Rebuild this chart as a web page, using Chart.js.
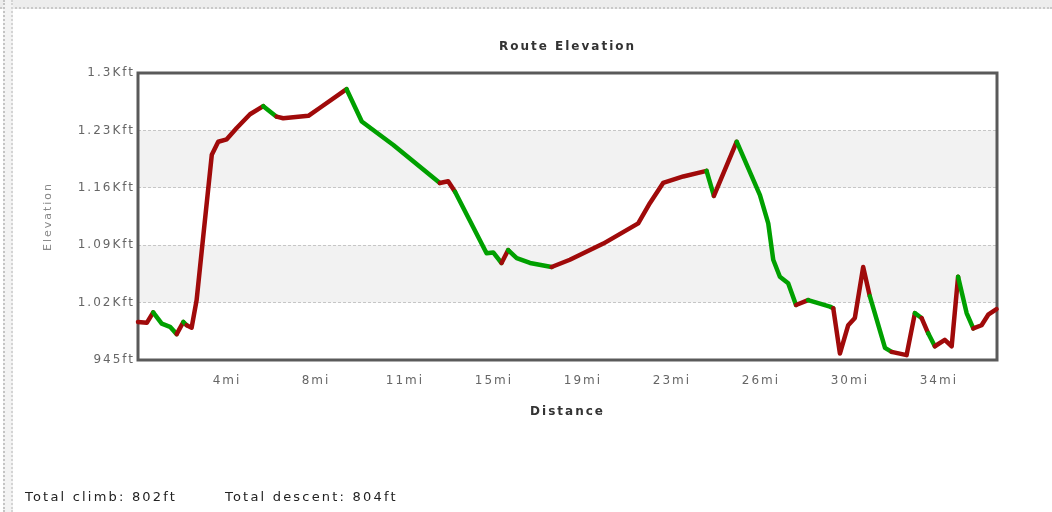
<!DOCTYPE html>
<html>
<head>
<meta charset="utf-8">
<script src="https://cdn.jsdelivr.net/npm/chart.js@4"></script>
<style>
html,body{margin:0;padding:0;background:#fff;}
#wrap{position:relative;width:1052px;height:512px;overflow:hidden;background:#fff;}
#topbar{position:absolute;left:0;top:0;width:1052px;height:7px;background:#ededed;border-bottom:2px dotted #c9c9c9;}
#leftbar{position:absolute;left:3px;top:0;width:6px;height:512px;background:#f3f3f3;border-left:2px dotted #c4c4c4;border-right:2px dotted #d4d4d4;}
canvas{position:absolute;left:0;top:0;}
.tot{position:absolute;top:489px;font:13px "DejaVu Sans",sans-serif;letter-spacing:2.2px;color:#222;white-space:pre;line-height:16px;}
</style>
</head>
<body>
<div id="wrap">
  <div id="topbar"></div>
  <div id="leftbar"></div>
  <canvas id="c" width="1052" height="512"></canvas>
  <div class="tot" id="climb" style="left:25px;"></div>
  <div class="tot" id="descent" style="left:225px;"></div>
</div>
<script>
// ---- data ----
const distanceMi = [0, 0.37, 0.64, 1.00, 1.35, 1.63, 1.91, 2.05, 2.26, 2.47,
  2.75, 3.11, 3.38, 3.74, 4.16, 4.72, 5.28, 5.84, 6.12, 7.18,
  7.67, 8.79, 9.43, 10.76, 12.72, 13.07, 13.36, 14.69, 14.97, 15.32,
  15.60, 15.96, 16.52, 17.43, 18.20, 19.61, 21.08, 21.57, 22.13, 22.98,
  23.96, 24.27, 25.23, 26.21, 26.56, 26.77, 27.05, 27.40, 27.73, 28.24,
  29.16, 29.30, 29.58, 29.93, 30.21, 30.56, 30.84, 31.48, 31.76, 32.39,
  32.74, 33.02, 33.30, 33.58, 34.00, 34.29, 34.56, 34.92, 35.20, 35.55,
  35.83, 36.18];
const elevationFt = [992, 991, 1004, 990, 986, 977, 992, 988, 985, 1019,
  1098, 1199, 1215, 1218, 1232, 1249, 1259, 1246, 1244, 1247,
  1257, 1280, 1240, 1211, 1164, 1166, 1153, 1077, 1078, 1065,
  1081, 1071, 1065, 1060, 1069, 1089, 1114, 1139, 1164, 1172,
  1179, 1148, 1215, 1149, 1114, 1069, 1048, 1040, 1013, 1019,
  1011, 1009, 953, 988, 997, 1060, 1024, 960, 955, 951,
  1003, 997, 978, 962, 970, 962, 1048, 1003, 984, 988,
  1001, 1008];
// colour of each segment (R = climb colour, G = descent colour)
const segmentTrend = ['R','R','G','G','G','R','G','R','R','R',
  'R','R','R','R','R','R','G','R','R','R',
  'R','G','G','G','R','R','G','G','G','R',
  'G','G','G','R','R','R','R','R','R','R',
  'G','R','G','G','G','G','G','G','R','G',
  'G','R','R','R','R','R','G','G','R','R',
  'G','R','G','R','R','R','G','G','R','R',
  'R'];
const xTickValues = [3.75, 7.5, 11.25, 15, 18.75, 22.5, 26.25, 30, 33.75];
const xTickLabels = ['4mi','8mi','11mi','15mi','19mi','23mi','26mi','30mi','34mi'];
const yTickValues = [945, 1016, 1087, 1158, 1229, 1300];
const yTickLabels = ['945ft','1.02Kft','1.09Kft','1.16Kft','1.23Kft','1.3Kft'];
const shadedBands = [[1016, 1087], [1158, 1229]];
const totalClimbFt = 802;
const totalDescentFt = 804;

document.getElementById('climb').textContent = 'Total climb: ' + totalClimbFt + 'ft';
document.getElementById('descent').textContent = 'Total descent: ' + totalDescentFt + 'ft';

const RED = '#a00a0a';
const GREEN = '#00a000';
const FONT = 'DejaVu Sans';

const framePlugin = {
  id: 'frame',
  beforeUpdate(chart) { chart.ctx.letterSpacing = '2px'; },
  beforeDraw(chart) {
    const {ctx, chartArea: {left, right}, scales: {y}} = chart;
    ctx.letterSpacing = '2px';
    ctx.save();
    ctx.fillStyle = '#f2f2f2';
    shadedBands.forEach(([a, b]) => {
      const t = y.getPixelForValue(b);
      const bt = y.getPixelForValue(a);
      ctx.fillRect(left, t, right - left, bt - t);
    });
    ctx.restore();
  },
  beforeDatasetsDraw(chart) {
    const {ctx, chartArea: {left, right, top, bottom}} = chart;
    ctx.save();
    ctx.strokeStyle = '#5a5a5a';
    ctx.lineWidth = 3;
    ctx.strokeRect(left, top, right - left, bottom - top);
    ctx.restore();
  }
};

new Chart(document.getElementById('c'), {
  type: 'line',
  data: {
    datasets: [{
      data: distanceMi.map((d, i) => ({x: d, y: elevationFt[i]})),
      borderWidth: 4.5,
      pointRadius: 0,
      tension: 0,
      fill: false,
      clip: false,
      borderCapStyle: 'round',
      borderJoinStyle: 'round',
      borderColor: RED,
      segment: {
        borderColor: c => segmentTrend[c.p0DataIndex] === 'R' ? RED : GREEN
      }
    }]
  },
  options: {
    responsive: false,
    animation: false,
    events: [],
    layout: {padding: {left: 0, right: 55, top: 0, bottom: 92.8}},
    plugins: {
      legend: {display: false},
      tooltip: {enabled: false},
      title: {
        display: true,
        text: 'Route Elevation',
        fullSize: false,
        color: '#333',
        font: {family: FONT, size: 12, weight: 'bold'},
        padding: {top: 40, bottom: 18.6}
      }
    },
    scales: {
      x: {
        type: 'linear',
        min: 0,
        max: 36.2,
        grid: {display: false, drawTicks: false},
        border: {display: false},
        afterBuildTicks(s) { s.ticks = xTickValues.map(v => ({value: v})); },
        afterFit(s) { s.height = 59.2; },
        ticks: {
          padding: 14,
          color: '#666',
          font: {family: FONT, size: 12},
          maxRotation: 0,
          autoSkip: false,
          callback: (v, i) => xTickLabels[i]
        },
        title: {
          display: true,
          text: 'Distance',
          color: '#333',
          font: {family: FONT, size: 12, weight: 'bold'},
          padding: {top: 16.4, bottom: 0}
        }
      },
      y: {
        type: 'linear',
        min: 945,
        max: 1300,
        afterBuildTicks(s) { s.ticks = yTickValues.map(v => ({value: v})); },
        afterFit(s) { s.width = 138; },
        grid: {
          drawTicks: false,
          lineWidth: 1,
          color: c => (c.index === 0 || c.index === yTickValues.length - 1) ? 'rgba(0,0,0,0)' : '#c6c6c6'
        },
        border: {display: false, dash: [3, 2]},
        ticks: {
          padding: 3,
          color: '#666',
          font: {family: FONT, size: 12},
          autoSkip: false,
          callback: (v, i) => yTickLabels[i]
        },
        title: {
          display: true,
          text: 'Elevation',
          color: '#888',
          font: {family: FONT, size: 11},
          padding: {top: 41.4, bottom: 0}
        }
      }
    }
  },
  plugins: [framePlugin]
});
</script>
</body>
</html>
